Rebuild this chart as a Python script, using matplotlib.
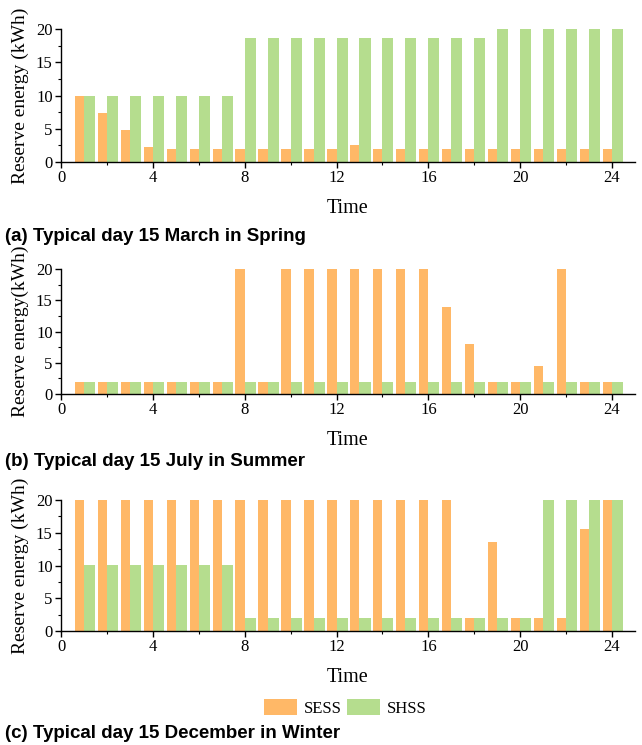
import matplotlib
matplotlib.use("Agg")
import matplotlib.pyplot as plt
from matplotlib.ticker import MultipleLocator
import numpy as np

hours = list(range(1, 25))

sess_spring = [10, 7.4, 4.8, 2.2, 2, 2, 2, 2, 2, 2, 2, 2, 2.6, 2, 2, 2, 2, 2, 2, 2, 2, 2, 2, 2]
shss_spring = [10, 10, 10, 10, 10, 10, 10, 18.6, 18.6, 18.6, 18.6, 18.6, 18.6, 18.6, 18.6, 18.6, 18.6, 18.6,
               20, 20, 20, 20, 20, 20]

sess_summer = [2, 2, 2, 2, 2, 2, 2, 20, 2, 20, 20, 20, 20, 20, 20, 20, 13.9, 8, 2, 2, 4.5, 20, 2, 2]
shss_summer = [2] * 24

sess_winter = [20] * 17 + [2, 13.6, 2, 2, 2, 15.6, 20]
shss_winter = [10.1] * 7 + [2] * 13 + [20, 20, 20, 20]

ylabels = ["Reserve energy (kWh)", "Reserve energy(kWh)", "Reserve energy (kWh)"]
captions = ["(a) Typical day 15 March in Spring",
            "(b) Typical day 15 July in Summer",
            "(c) Typical day 15 December in Winter"]
series_names = ["SESS", "SHSS"]

orange = "#FFB867"
green = "#B5DD8E"

serif = ["Liberation Serif", "DejaVu Serif"]
sans = ["Liberation Sans", "DejaVu Sans"]

fig = plt.figure(figsize=(6.42, 7.45), dpi=100)
W, H = 642, 745
# (top_px of 20, bottom_px of 0)
boxes = [(29, 162), (269, 394), (500, 631)]
caption_y = [236, 462, 733]
data = [(sess_spring, shss_spring), (sess_summer, shss_summer), (sess_winter, shss_winter)]

x = np.array(hours, dtype=float)
for i, ((top, bot), (s1, s2)) in enumerate(zip(boxes, data)):
    ax = fig.add_axes([61 / W, 1 - bot / H, 574 / W, (bot - top) / H])
    b1 = ax.bar(x - 0.2, s1, width=0.4, color=orange, edgecolor="none", label=series_names[0])
    b2 = ax.bar(x + 0.24, s2, width=0.48, color=green, edgecolor="none", label=series_names[1])
    ax.set_xlim(0, 25)
    ax.set_ylim(0, 20)
    ax.spines["top"].set_visible(False)
    ax.spines["right"].set_visible(False)
    ax.spines["left"].set_linewidth(1.0)
    ax.spines["bottom"].set_linewidth(1.0)
    ax.xaxis.set_major_locator(MultipleLocator(4))
    ax.xaxis.set_minor_locator(MultipleLocator(2))
    ax.yaxis.set_major_locator(MultipleLocator(5))
    ax.yaxis.set_minor_locator(MultipleLocator(2.5))
    ax.tick_params(which="major", direction="out", length=4, width=1, labelsize=12, pad=2)
    ax.tick_params(which="minor", direction="out", length=2.5, width=0.8)
    for lab in ax.get_xticklabels() + ax.get_yticklabels():
        lab.set_family(serif)
    ax.set_xlabel("Time", fontsize=14.5, family=serif, labelpad=9)
    ax.set_ylabel(ylabels[i], fontsize=14, family=serif)
    ax.yaxis.set_label_coords(-0.055, 0.5)
    fig.text(5 / W, 1 - caption_y[i] / H, captions[i], fontsize=13.5, fontweight="bold",
             family=sans, ha="left", va="center")
    if i == 2:
        fig.legend(handles=[b1, b2], labels=series_names, loc="center",
                   bbox_to_anchor=(345 / W, 1 - 708 / H), ncol=2, frameon=False,
                   prop={"family": serif, "size": 12}, handlelength=2.0, handleheight=1.1,
                   handletextpad=0.4, columnspacing=0.3, borderpad=0)

fig.savefig("out.png", dpi=100)
